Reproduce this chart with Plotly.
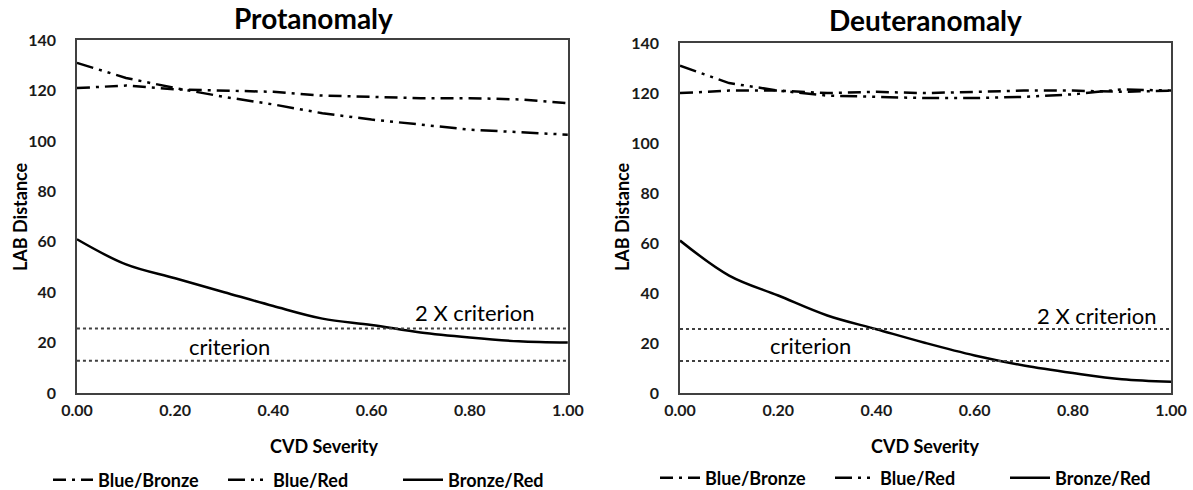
import plotly.graph_objects as go

severity = [0.0, 0.1, 0.2, 0.3, 0.4, 0.5, 0.6, 0.7, 0.8, 0.9, 1.0]
x_ticks = [0.0, 0.2, 0.4, 0.6, 0.8, 1.0]
x_tick_labels = ["0.00", "0.20", "0.40", "0.60", "0.80", "1.00"]
y_ticks = [0, 20, 40, 60, 80, 100, 120, 140]

prot_blue_bronze = [121, 122, 120.5, 120, 119.5, 118, 117.5, 117, 117, 116.5, 115]
prot_blue_red = [131, 125, 121, 117.5, 114.5, 111, 108.5, 106.5, 104.5, 103.5, 102.5]
prot_bronze_red = [61, 51, 45.5, 40, 34.5, 29.5, 27, 24, 22, 20.5, 20]

deut_blue_bronze = [120, 121, 121, 120, 120.5, 120, 120.5, 121, 121, 120.5, 121]
deut_blue_red = [131, 124, 121, 119, 118.5, 118, 118, 118.5, 119.5, 121.5, 121]
deut_bronze_red = [61, 47, 39, 31, 25.5, 20, 15, 11, 8, 5.5, 4.5]

criterion = 12.8
criterion_2x = 25.6

font_family = "Lato, 'Open Sans', sans-serif"
DASH_BB = "13px,6px,3px,6px"
DASH_BR = "17px,6px,3px,6px,3px,6px"

fig = go.Figure()

panels = [
    ("x", "y", "legend", prot_blue_bronze, prot_blue_red, prot_bronze_red),
    ("x2", "y2", "legend2", deut_blue_bronze, deut_blue_red, deut_bronze_red),
]
for xa, ya, lg, bb, br, bz in panels:
    fig.add_trace(go.Scatter(x=severity, y=bb, xaxis=xa, yaxis=ya, mode="lines",
                             name="Blue/Bronze", legend=lg,
                             line=dict(color="black", width=2.5, dash=DASH_BB)))
    fig.add_trace(go.Scatter(x=severity, y=br, xaxis=xa, yaxis=ya, mode="lines",
                             name="Blue/Red", legend=lg,
                             line=dict(color="black", width=2.5, dash=DASH_BR)))
    fig.add_trace(go.Scatter(x=severity, y=bz, xaxis=xa, yaxis=ya, mode="lines",
                             name="Bronze/Red", legend=lg, line_shape="spline",
                             line=dict(color="black", width=2.5)))
    for lvl in (criterion, criterion_2x):
        fig.add_trace(go.Scatter(x=[0, 1], y=[lvl, lvl], xaxis=xa, yaxis=ya, mode="lines",
                                 showlegend=False, hoverinfo="skip",
                                 line=dict(color="#404040", width=2, dash="dot")))

axis_common = dict(showgrid=False, zeroline=False, showline=True, mirror=True,
                   linecolor="#404040", linewidth=1.5, ticks="",
                   tickfont=dict(family=font_family, size=16, color="#1a1a1a", weight="bold"))

legend_common = dict(orientation="h", xanchor="left", yanchor="middle", itemwidth=40,
                     entrywidth=120,
                     font=dict(family=font_family, size=18, weight="bold"),
                     bgcolor="rgba(0,0,0,0)")

fig.update_layout(
    width=1193, height=490,
    margin=dict(l=0, r=0, t=0, b=0, autoexpand=False),
    paper_bgcolor="white", plot_bgcolor="white",
    font=dict(family=font_family, color="black"),
    xaxis=dict(domain=[0.0645, 0.476], range=[0, 1], tickvals=x_ticks, ticktext=x_tick_labels,
               anchor="y", ticklabelstandoff=2, **axis_common),
    yaxis=dict(domain=[0.198, 0.918], range=[0, 140], tickvals=y_ticks, anchor="x",
               ticklabelstandoff=16, **axis_common),
    xaxis2=dict(domain=[0.570, 0.9816], range=[0, 1], tickvals=x_ticks, ticktext=x_tick_labels,
                anchor="y2", ticklabelstandoff=2, **axis_common),
    yaxis2=dict(domain=[0.198, 0.912], range=[0, 140], tickvals=y_ticks, anchor="x2",
                ticklabelstandoff=16, **axis_common),
    legend=dict(x=48 / 1193, y=1 - 480 / 490, **legend_common),
    legend2=dict(x=655 / 1193, y=1 - 478 / 490, **legend_common),
    showlegend=True,
)

ann = []
ann.append(dict(text="<b>Protanomaly</b>", x=313 / 1193, y=1 - 18 / 490, xref="paper", yref="paper",
                xanchor="center", yanchor="middle", showarrow=False,
                font=dict(size=28, family=font_family)))
ann.append(dict(text="<b>Deuteranomaly</b>", x=925 / 1193, y=1 - 20 / 490, xref="paper", yref="paper",
                xanchor="center", yanchor="middle", showarrow=False,
                font=dict(size=28, family=font_family)))
for xp in (20 / 1193, 622 / 1193):
    ann.append(dict(text="<b>LAB Distance</b>", x=xp, y=1 - 217 / 490, xref="paper", yref="paper",
                    xanchor="center", yanchor="middle", showarrow=False, textangle=-90,
                    font=dict(size=18, family=font_family)))
for xp in (325 / 1193, 925 / 1193):
    ann.append(dict(text="<b>CVD Severity</b>", x=xp, y=1 - 446 / 490, xref="paper", yref="paper",
                    xanchor="center", yanchor="middle", showarrow=False,
                    font=dict(size=18, family=font_family)))
ann.append(dict(text="2 X criterion", x=0.81, y=32, xref="x", yref="y", showarrow=False,
                font=dict(size=22, family=font_family)))
ann.append(dict(text="criterion", x=0.31, y=18.5, xref="x", yref="y", showarrow=False,
                font=dict(size=22, family=font_family)))
ann.append(dict(text="2 X criterion", x=0.85, y=31, xref="x2", yref="y2", showarrow=False,
                font=dict(size=22, family=font_family)))
ann.append(dict(text="criterion", x=0.265, y=19, xref="x2", yref="y2", showarrow=False,
                font=dict(size=22, family=font_family)))
fig.update_layout(annotations=ann)

fig.write_html("out.html", config={"displayModeBar": False},
               post_script="document.body.style.margin='0';")
